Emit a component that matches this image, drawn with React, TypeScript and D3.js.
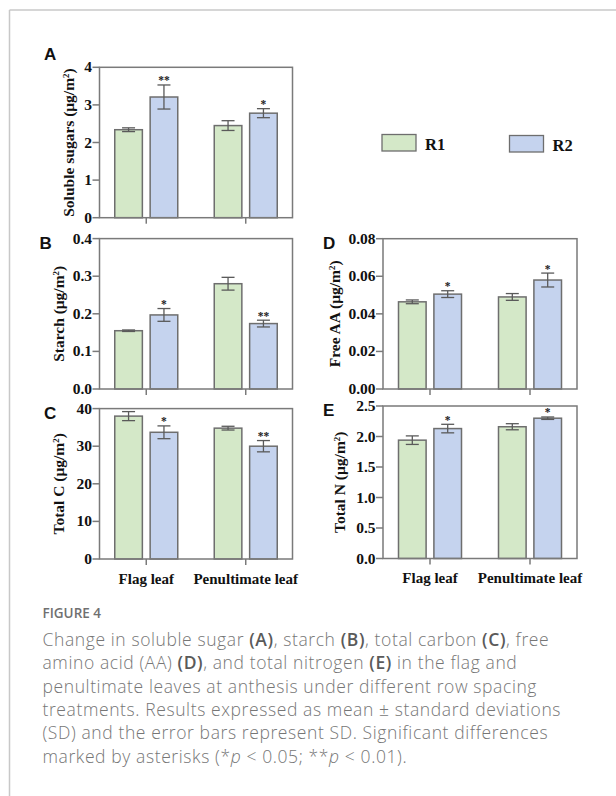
import React from "react";
import * as d3 from "d3";

const categories = ["Flag leaf", "Penultimate leaf"];
const seriesNames = ["R1", "R2"];
const seriesColors = ["#d4e8c8", "#c5d3ee"];

const sugarR1 = [2.34, 2.45];
const sugarR1Sd = [0.05, 0.13];
const sugarR2 = [3.21, 2.78];
const sugarR2Sd = [0.32, 0.12];
const sugarSig = ["**", "*"];
const sugarTicks = [0, 1, 2, 3, 4];

const starchR1 = [0.155, 0.28];
const starchR1Sd = [0.002, 0.017];
const starchR2 = [0.197, 0.174];
const starchR2Sd = [0.017, 0.009];
const starchSig = ["*", "**"];
const starchTicks = [0, 0.1, 0.2, 0.3, 0.4];

const carbonR1 = [38.0, 34.8];
const carbonR1Sd = [1.2, 0.5];
const carbonR2 = [33.7, 30.0];
const carbonR2Sd = [1.7, 1.5];
const carbonSig = ["*", "**"];
const carbonTicks = [0, 10, 20, 30, 40];

const aaR1 = [0.0464, 0.049];
const aaR1Sd = [0.001, 0.0018];
const aaR2 = [0.0505, 0.058];
const aaR2Sd = [0.0018, 0.0037];
const aaSig = ["*", "*"];
const aaTicks = [0, 0.02, 0.04, 0.06, 0.08];

const nitroR1 = [1.94, 2.16];
const nitroR1Sd = [0.07, 0.05];
const nitroR2 = [2.13, 2.3];
const nitroR2Sd = [0.07, 0.02];
const nitroSig = ["*", "*"];
const nitroTicks = [0, 0.5, 1.0, 1.5, 2.0, 2.5];

const SERIF = "'Liberation Serif', 'Times New Roman', serif";
const SANS = "'Liberation Sans', Arial, sans-serif";
const CAP = "'Open Sans', 'Noto Sans', sans-serif";
const AXIS = "#7a7a7a";

type PanelProps = {
  letter: string;
  x0: number; x1: number; y0: number; y1: number;
  r1: number[]; r1sd: number[]; r2: number[]; r2sd: number[]; sig: string[];
  ticks: number[]; fmt: string; ylabel: string; labelOffset: number;
  showCats: boolean;
};

function Panel(p: PanelProps) {
  const max = p.ticks[p.ticks.length - 1];
  const y = d3.scaleLinear().domain([0, max]).range([p.y1, p.y0]);
  const xg = d3.scalePoint<string>().domain(categories).range([p.x0, p.x1]).padding(0.47);
  const xs = d3.scaleBand<string>().domain(seriesNames).range([-31.5, 31.5]).paddingInner(0.22);
  const f = d3.format(p.fmt);
  const vals = [p.r1, p.r2];
  const sds = [p.r1sd, p.r2sd];
  const bw = xs.bandwidth();
  return (
    <g>
      <text x={p.letter === "A" || p.letter === "C" ? p.x0 - 55.5 : p.x0 - 60} y={p.y0 + (p.letter === "A" ? -7 : 10)}
        fontFamily={SANS} fontWeight="bold" fontSize={17} fill="#111">{p.letter}</text>
      {categories.map((c, i) =>
        seriesNames.map((s, j) => {
          const v = vals[j][i];
          const sd = sds[j][i];
          const bx = (xg(c) as number) + (xs(s) as number);
          const cx = bx + bw / 2;
          return (
            <g key={c + s}>
              <rect x={bx} y={y(v)} width={bw} height={p.y1 - y(v)} fill={seriesColors[j]} stroke="#6e6e6e" strokeWidth={1.5} />
              <line x1={cx} x2={cx} y1={y(v + sd)} y2={y(v - sd)} stroke="#5a5a5a" strokeWidth={1.3} />
              <line x1={cx - 6.5} x2={cx + 6.5} y1={y(v + sd)} y2={y(v + sd)} stroke="#5a5a5a" strokeWidth={1.3} />
              <line x1={cx - 6.5} x2={cx + 6.5} y1={y(v - sd)} y2={y(v - sd)} stroke="#5a5a5a" strokeWidth={1.3} />
              {j === 1 && (
                <text x={cx} y={y(v + sd) - 0.5} textAnchor="middle" fontFamily={SERIF} fontWeight="bold" fontSize={11.5} fill="#222">{p.sig[i]}</text>
              )}
            </g>
          );
        })
      )}
      <rect x={p.x0} y={p.y0} width={p.x1 - p.x0} height={p.y1 - p.y0} fill="none" stroke={AXIS} strokeWidth={1.5} />
      {p.ticks.map((t) => (
        <g key={t}>
          <line x1={p.x0 - 7} x2={p.x0} y1={y(t)} y2={y(t)} stroke={AXIS} strokeWidth={1.5} />
          <text x={p.x0 - 7.5} y={y(t) + 5} textAnchor="end" fontFamily={SERIF} fontWeight="bold" fontSize={15.5} fill="#111">{f(t)}</text>
        </g>
      ))}
      {categories.map((c) => (
        <g key={c}>
          <line x1={xg(c)} x2={xg(c)} y1={p.y1} y2={p.y1 + 6} stroke={AXIS} strokeWidth={1.5} />
          {p.showCats && (
            <text x={xg(c)} y={p.y1 + 24.5} textAnchor="middle" fontFamily={SERIF} fontWeight="bold" fontSize={15} fill="#111">{c}</text>
          )}
        </g>
      ))}
      <text transform={`translate(${p.x0 - p.labelOffset},${(p.y0 + p.y1) / 2}) rotate(-90)`} textAnchor="middle"
        fontFamily={SERIF} fontWeight="bold" fontSize={15.5} fill="#111">
        {p.ylabel}
        <tspan dy={-5} fontSize={9}>2</tspan>
        <tspan dy={5}>)</tspan>
      </text>
    </g>
  );
}

const captionLines: { t: string; b?: boolean; i?: boolean }[][] = [
  [{ t: "Change in soluble sugar " }, { t: "(A)", b: true }, { t: ", starch " }, { t: "(B)", b: true }, { t: ", total carbon " }, { t: "(C)", b: true }, { t: ", free" }],
  [{ t: "amino acid (AA) " }, { t: "(D)", b: true }, { t: ", and total nitrogen " }, { t: "(E)", b: true }, { t: " in the flag and" }],
  [{ t: "penultimate leaves at anthesis under different row spacing" }],
  [{ t: "treatments. Results expressed as mean \u00b1 standard deviations" }],
  [{ t: "(SD) and the error bars represent SD. Significant differences" }],
  [{ t: "marked by asterisks (*" }, { t: "p", i: true }, { t: " < 0.05; **" }, { t: "p", i: true }, { t: " < 0.01)." }],
];

export default function App() {
  return (
    <svg width={616} height={796} style={{ position: "absolute", left: 0, top: 0, background: "#fff" }}>
      <line x1={9.5} x2={616} y1={10} y2={10} stroke="#c8c8c8" strokeWidth={1.5} />
      <line x1={9.5} x2={9.5} y1={10} y2={796} stroke="#c8c8c8" strokeWidth={1.5} />

      <Panel letter="A" x0={99.5} x1={292.5} y0={67.3} y1={217.7} r1={sugarR1} r1sd={sugarR1Sd} r2={sugarR2} r2sd={sugarR2Sd}
        sig={sugarSig} ticks={sugarTicks} fmt="d" ylabel="Soluble sugars (μg/m" labelOffset={26} showCats={false} />
      <Panel letter="B" x0={99.5} x1={292.5} y0={238.6} y1={389} r1={starchR1} r1sd={starchR1Sd} r2={starchR2} r2sd={starchR2Sd}
        sig={starchSig} ticks={starchTicks} fmt=".1f" ylabel="Starch (μg/m" labelOffset={36} showCats={false} />
      <Panel letter="C" x0={99.5} x1={292.5} y0={408.6} y1={559} r1={carbonR1} r1sd={carbonR1Sd} r2={carbonR2} r2sd={carbonR2Sd}
        sig={carbonSig} ticks={carbonTicks} fmt="d" ylabel="Total C (μg/m" labelOffset={36} showCats={true} />
      <Panel letter="D" x0={383} x1={577} y0={238.7} y1={389} r1={aaR1} r1sd={aaR1Sd} r2={aaR2} r2sd={aaR2Sd}
        sig={aaSig} ticks={aaTicks} fmt=".2f" ylabel="Free AA (μg/m" labelOffset={43} showCats={false} />
      <Panel letter="E" x0={383} x1={577} y0={406} y1={558.5} r1={nitroR1} r1sd={nitroR1Sd} r2={nitroR2} r2sd={nitroR2Sd}
        sig={nitroSig} ticks={nitroTicks} fmt=".1f" ylabel="Total N (μg/m" labelOffset={38.5} showCats={true} />

      {seriesNames.map((s, i) => (
        <g key={s}>
          <rect x={382 + i * 127.5} y={134.5 + i} width={34} height={16.5} fill={seriesColors[i]} stroke="#6e6e6e" strokeWidth={1.3} />
          <text x={425 + i * 127.5} y={150 + i} fontFamily={SERIF} fontWeight="bold" fontSize={16.5} fill="#111">{s}</text>
        </g>
      ))}

      <text x={42.5} y={618} fontFamily={CAP} fontWeight={600} fontSize={13.5} fill="#707070">FIGURE 4</text>
      {captionLines.map((line, li) => (
        <text key={li} x={42.5} y={646 + li * 23.3} fontFamily={CAP} fontSize={17.5} letterSpacing={0.6} fill="#767676">
          {line.map((seg, si) => (
            <tspan key={si} fontWeight={seg.b ? 600 : 300} fontStyle={seg.i ? "italic" : "normal"} fill={seg.b ? "#5a5a5a" : "#767676"}>{seg.t}</tspan>
          ))}
        </text>
      ))}
    </svg>
  );
}
